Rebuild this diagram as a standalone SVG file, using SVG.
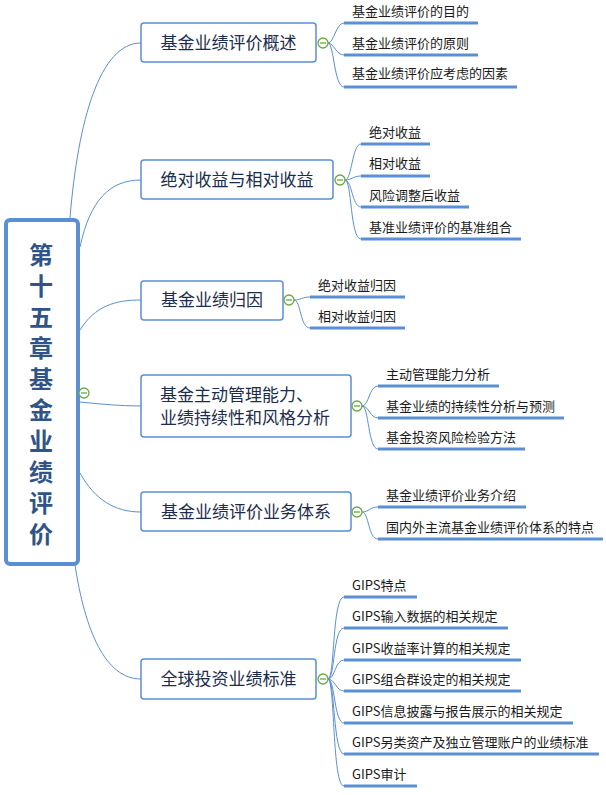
<svg xmlns="http://www.w3.org/2000/svg" width="606" height="795" viewBox="0 0 606 795">
<style>
  .bg{fill:#ffffff}
  .root{fill:#ffffff;stroke:#5a8fd4;stroke-width:4}
  .roottxt{font-family:"Noto Sans CJK SC","Noto Sans",sans-serif;font-size:24px;font-weight:bold;fill:#2f5487;writing-mode:vertical-rl;letter-spacing:7px}
  .box{fill:#ffffff;stroke:#5a8fd4;stroke-width:1.5}
  .t1{font-family:"Noto Sans CJK SC","Noto Sans",sans-serif;font-size:17px;fill:#1c2c4c}
  .t2{font-family:"Noto Sans CJK SC","Noto Sans",sans-serif;font-size:13px;fill:#1a1a1a}
  .ul{stroke:#5a8fd4;stroke-width:3;fill:none}
  .conn path{fill:none;stroke:#5a8fd4;stroke-width:1}
  .col circle{fill:#ffffff;stroke:#6aaa3a;stroke-width:1.3}
  .col line{stroke:#6aaa3a;stroke-width:1.3}
</style>
<rect class="bg" x="0" y="0" width="606" height="795"/>

<g id="connectors" class="conn">
  <!-- root to level 1 -->
  <path d="M70,218 C78,120 100,43 141,43"/>
  <path d="M80,247 C90,200 110,180 141,180"/>
  <path d="M80,330 C95,306 115,300 141,300"/>
  <path d="M80,402 C100,404 120,406 141,406"/>
  <path d="M80,473 C95,500 115,512 141,512"/>
  <path d="M75,565 C85,630 105,679 141,679"/>
  <!-- group 1 -->
  <path d="M328,43 C334,43 336,23 344,23"/>
  <path d="M328,43 C334,43 336,55 344,55"/>
  <path d="M328,43 C334,43 334,87 344,87"/>
  <!-- group 2 -->
  <path d="M345,180 C352,180 352,144 361,144"/>
  <path d="M345,180 C352,180 353,176 361,176"/>
  <path d="M345,180 C352,180 352,207 361,207"/>
  <path d="M345,180 C352,180 350,239 361,239"/>
  <!-- group 3 -->
  <path d="M294,300 C301,300 302,297 310,297"/>
  <path d="M294,300 C301,300 300,328 310,328"/>
  <!-- group 4 -->
  <path d="M362,406 C369,406 369,386 378,386"/>
  <path d="M362,406 C369,406 370,418 378,418"/>
  <path d="M362,406 C369,406 368,449 378,449"/>
  <!-- group 5 -->
  <path d="M362,512 C369,512 370,507 378,507"/>
  <path d="M362,512 C369,512 368,539 378,539"/>
  <!-- group 6 -->
  <path d="M328,679 C335,679 332,597 344,597"/>
  <path d="M328,679 C335,679 333,628 344,628"/>
  <path d="M328,679 C335,679 335,660 344,660"/>
  <path d="M328,679 C335,679 336,691 344,691"/>
  <path d="M328,679 C335,679 334,723 344,723"/>
  <path d="M328,679 C335,679 333,754 344,754"/>
  <path d="M328,679 C335,679 332,786 344,786"/>
</g>

<g id="root">
  <rect class="root" x="6" y="220" width="72" height="344" rx="4"/>
  <text class="roottxt" x="41" y="243">第十五章基金业绩评价</text>
  <g class="col"><circle cx="84" cy="393" r="5"/><line x1="81" y1="393" x2="87" y2="393"/></g>
</g>

<g id="n1">
  <rect class="box" x="141" y="23" width="175" height="39" rx="3"/>
  <text class="t1" x="228.5" y="49" text-anchor="middle">基金业绩评价概述</text>
  <g class="col"><circle cx="323" cy="43" r="5"/><line x1="320" y1="43" x2="326" y2="43"/></g>
</g>
<g id="n1a"><text class="t2" x="352" y="16">基金业绩评价的目的</text><line class="ul" x1="344" y1="23" x2="478" y2="23"/></g>
<g id="n1b"><text class="t2" x="352" y="48">基金业绩评价的原则</text><line class="ul" x1="344" y1="55" x2="478" y2="55"/></g>
<g id="n1c"><text class="t2" x="352" y="78">基金业绩评价应考虑的因素</text><line class="ul" x1="344" y1="87" x2="517" y2="87"/></g>

<g id="n2">
  <rect class="box" x="141" y="160" width="192" height="39" rx="3"/>
  <text class="t1" x="237" y="186" text-anchor="middle">绝对收益与相对收益</text>
  <g class="col"><circle cx="340" cy="180" r="5"/><line x1="337" y1="180" x2="343" y2="180"/></g>
</g>
<g id="n2a"><text class="t2" x="369" y="137">绝对收益</text><line class="ul" x1="361" y1="144" x2="430" y2="144"/></g>
<g id="n2b"><text class="t2" x="369" y="168">相对收益</text><line class="ul" x1="361" y1="176" x2="430" y2="176"/></g>
<g id="n2c"><text class="t2" x="369" y="200">风险调整后收益</text><line class="ul" x1="361" y1="207" x2="469" y2="207"/></g>
<g id="n2d"><text class="t2" x="369" y="232">基准业绩评价的基准组合</text><line class="ul" x1="361" y1="239" x2="521" y2="239"/></g>

<g id="n3">
  <rect class="box" x="141" y="281" width="142" height="39" rx="3"/>
  <text class="t1" x="212" y="306" text-anchor="middle">基金业绩归因</text>
  <g class="col"><circle cx="289" cy="300" r="5"/><line x1="286" y1="300" x2="292" y2="300"/></g>
</g>
<g id="n3a"><text class="t2" x="318" y="290">绝对收益归因</text><line class="ul" x1="310" y1="297" x2="405" y2="297"/></g>
<g id="n3b"><text class="t2" x="318" y="321">相对收益归因</text><line class="ul" x1="310" y1="328" x2="405" y2="328"/></g>

<g id="n4">
  <rect class="box" x="141" y="375" width="210" height="62" rx="3"/>
  <text class="t1" x="160" y="401">基金主动管理能力、</text>
  <text class="t1" x="160" y="424">业绩持续性和风格分析</text>
  <g class="col"><circle cx="357" cy="406" r="5"/><line x1="354" y1="406" x2="360" y2="406"/></g>
</g>
<g id="n4a"><text class="t2" x="386" y="379">主动管理能力分析</text><line class="ul" x1="378" y1="386" x2="499" y2="386"/></g>
<g id="n4b"><text class="t2" x="386" y="411">基金业绩的持续性分析与预测</text><line class="ul" x1="378" y1="418" x2="564" y2="418"/></g>
<g id="n4c"><text class="t2" x="386" y="442">基金投资风险检验方法</text><line class="ul" x1="378" y1="449" x2="525" y2="449"/></g>

<g id="n5">
  <rect class="box" x="141" y="492" width="210" height="39" rx="3"/>
  <text class="t1" x="246" y="518" text-anchor="middle">基金业绩评价业务体系</text>
  <g class="col"><circle cx="357" cy="512" r="5"/><line x1="354" y1="512" x2="360" y2="512"/></g>
</g>
<g id="n5a"><text class="t2" x="386" y="500">基金业绩评价业务介绍</text><line class="ul" x1="378" y1="507" x2="526" y2="507"/></g>
<g id="n5b"><text class="t2" x="386" y="532">国内外主流基金业绩评价体系的特点</text><line class="ul" x1="378" y1="539" x2="603" y2="539"/></g>

<g id="n6">
  <rect class="box" x="141" y="659" width="175" height="40" rx="3"/>
  <text class="t1" x="228.5" y="685" text-anchor="middle">全球投资业绩标准</text>
  <g class="col"><circle cx="323" cy="679" r="5"/><line x1="320" y1="679" x2="326" y2="679"/></g>
</g>
<g id="n6a"><text class="t2" x="352" y="590">GIPS特点</text><line class="ul" x1="344" y1="597" x2="417" y2="597"/></g>
<g id="n6b"><text class="t2" x="352" y="621">GIPS输入数据的相关规定</text><line class="ul" x1="344" y1="628" x2="508" y2="628"/></g>
<g id="n6c"><text class="t2" x="352" y="653">GIPS收益率计算的相关规定</text><line class="ul" x1="344" y1="660" x2="521" y2="660"/></g>
<g id="n6d"><text class="t2" x="352" y="684">GIPS组合群设定的相关规定</text><line class="ul" x1="344" y1="691" x2="521" y2="691"/></g>
<g id="n6e"><text class="t2" x="352" y="716">GIPS信息披露与报告展示的相关规定</text><line class="ul" x1="344" y1="723" x2="573" y2="723"/></g>
<g id="n6f"><text class="t2" x="352" y="747">GIPS另类资产及独立管理账户的业绩标准</text><line class="ul" x1="344" y1="754" x2="599" y2="754"/></g>
<g id="n6g"><text class="t2" x="352" y="779">GIPS审计</text><line class="ul" x1="344" y1="786" x2="417" y2="786"/></g>
</svg>
